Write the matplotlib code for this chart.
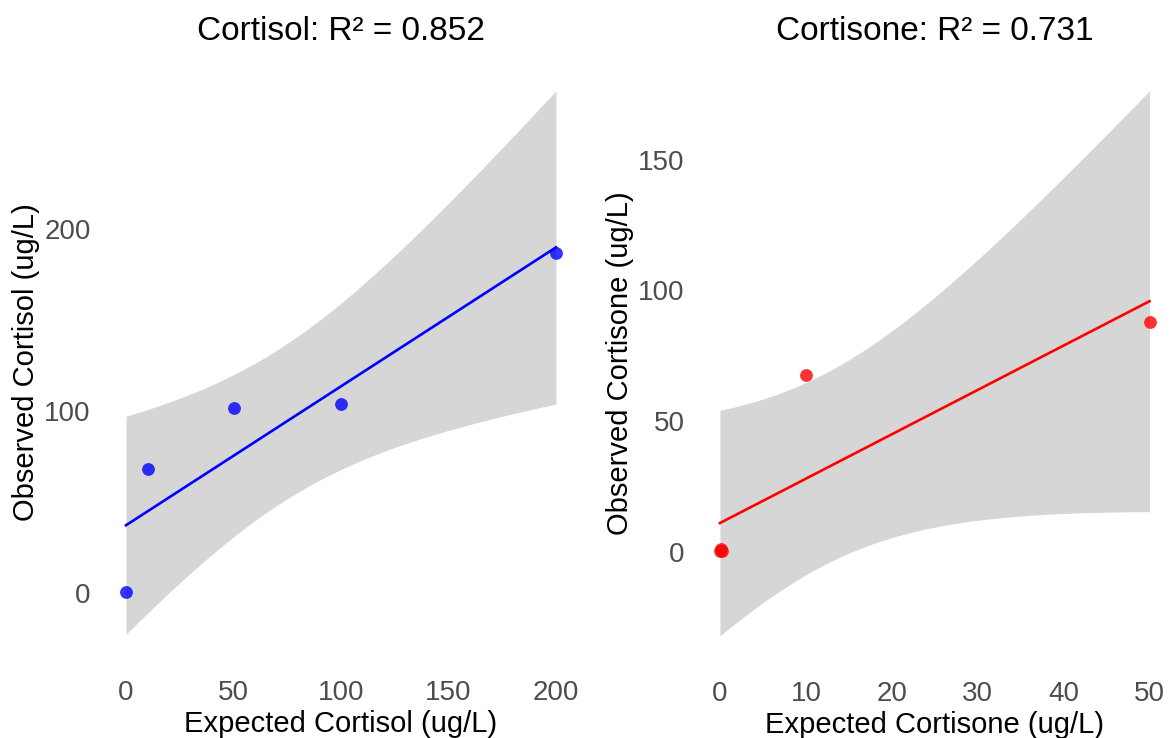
import numpy as np
import matplotlib
matplotlib.use("Agg")
import matplotlib.pyplot as plt

plt.rcParams['font.family'] = ['Liberation Sans', 'DejaVu Sans']

# ---- data ----
cortisol_expected = [0, 10, 50, 100, 200]
cortisol_observed = [0.5, 68, 102, 104, 187]
cortisone_expected = [0, 0.1, 0.25, 10, 50]
cortisone_observed = [0.3, 1.0, 0.5, 67.75, 88]

cortisol_xticks = [0, 50, 100, 150, 200]
cortisol_yticks = [0, 100, 200]
cortisone_xticks = [0, 10, 20, 30, 40, 50]
cortisone_yticks = [0, 50, 100, 150]

T975 = {3: 3.1824463}  # Student t 97.5% quantile


def fit_band(x, y, n=80):
    x = np.asarray(x, float); y = np.asarray(y, float)
    slope, intercept = np.polyfit(x, y, 1)
    yhat = intercept + slope * x
    sse = np.sum((y - yhat) ** 2)
    sst = np.sum((y - y.mean()) ** 2)
    r2 = 1 - sse / sst
    df = len(x) - 2
    s = np.sqrt(sse / df)
    xs = np.linspace(x.min(), x.max(), n)
    ys = intercept + slope * xs
    se = s * np.sqrt(1 / len(x) + (xs - x.mean()) ** 2 / np.sum((x - x.mean()) ** 2))
    t = T975[df]
    return xs, ys, ys - t * se, ys + t * se, r2


W, H = 1169, 738
fig = plt.figure(figsize=(W / 100, H / 100), dpi=100)

panels = [
    dict(name="Cortisol", x=cortisol_expected, y=cortisol_observed, color="blue",
         xt=cortisol_xticks, yt=cortisol_yticks, rect=[104.5, 63.5, 577.5, 661.5]),
    dict(name="Cortisone", x=cortisone_expected, y=cortisone_observed, color="red",
         xt=cortisone_xticks, yt=cortisone_yticks, rect=[698.5, 63.5, 1171, 663]),
]

for p in panels:
    l, t, r, b = p["rect"]
    ax = fig.add_axes([l / W, 1 - b / H, (r - l) / W, (b - t) / H])
    xs, ys, lo, hi, r2 = fit_band(p["x"], p["y"])
    ax.fill_between(xs, lo, hi, color="#999999", alpha=0.4, linewidth=0, zorder=1)
    ax.plot(xs, ys, color=p["color"], linewidth=1.9, zorder=2)
    ax.scatter(p["x"], p["y"], s=85, color=p["color"], alpha=0.8, linewidths=0, zorder=3)

    xmin, xmax = min(p["x"]), max(p["x"])
    ymin = min(min(p["y"]), lo.min()); ymax = max(max(p["y"]), hi.max())
    dx = (xmax - xmin) * 0.05; dy = (ymax - ymin) * 0.05
    ax.set_xlim(xmin - dx, xmax + dx)
    ax.set_ylim(ymin - dy, ymax + dy)
    ax.set_xticks(p["xt"]); ax.set_yticks(p["yt"])
    for sp in ax.spines.values():
        sp.set_visible(False)
    ax.tick_params(length=0, labelsize=20, labelcolor="#4d4d4d")
    ax.tick_params(axis="x", pad=13)
    ax.tick_params(axis="y", pad=10)
    ax.set_xlabel(f"Expected {p['name']} (ug/L)", fontsize=21, labelpad=3)
    ax.set_ylabel(f"Observed {p['name']} (ug/L)", fontsize=21, labelpad=3)
    ax.set_title(f"{p['name']}: R² = {r2:.3f}", fontsize=24, pad=17)

fig.savefig("out.png", dpi=100)
